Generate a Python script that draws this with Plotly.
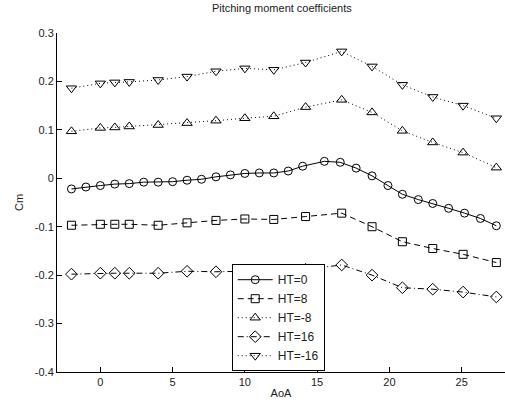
import plotly.graph_objects as go

# AoA values
aoa_ht0 = [-2, -1, 0, 1, 2, 3, 4, 5, 6, 7, 8, 9, 10, 11, 12, 13, 14,
           15.5, 16.6, 17.7, 18.8, 19.9, 20.9, 22.0, 23.0, 24.1, 25.2, 26.3, 27.4]
cm_ht0 = [-0.022, -0.018, -0.015, -0.012, -0.011, -0.008, -0.008, -0.007, -0.004, -0.002,
          0.003, 0.007, 0.010, 0.011, 0.011, 0.015, 0.025,
          0.035, 0.033, 0.021, 0.005, -0.015, -0.033, -0.044, -0.052, -0.062, -0.072, -0.083, -0.098]

aoa = [-2, 0, 1, 2, 4, 6, 8, 10, 12, 14.2, 16.7, 18.8, 20.9, 23.0, 25.1, 27.4]
cm_ht8 = [-0.097, -0.095, -0.095, -0.095, -0.097, -0.092, -0.087, -0.084, -0.085, -0.079,
          -0.072, -0.100, -0.131, -0.145, -0.157, -0.174]
cm_htm8 = [0.097, 0.104, 0.105, 0.107, 0.110, 0.114, 0.119, 0.124, 0.128, 0.147,
           0.162, 0.136, 0.098, 0.074, 0.053, 0.022]
cm_ht16 = [-0.198, -0.196, -0.196, -0.196, -0.196, -0.192, -0.193, -0.192, -0.190, -0.188,
           -0.179, -0.200, -0.226, -0.229, -0.235, -0.245]
cm_htm16 = [0.186, 0.196, 0.198, 0.199, 0.203, 0.210, 0.221, 0.227, 0.224, 0.239,
            0.262, 0.231, 0.193, 0.168, 0.150, 0.124]

x_ticks = [0, 5, 10, 15, 20, 25]
y_ticks = [0.3, 0.2, 0.1, 0, -0.1, -0.2, -0.3, -0.4]
y_tick_text = ["0.3", "0.2", "0.1", "0", "-0.1", "-0.2", "-0.3", "-0.4"]

fig = go.Figure()

def add(x, y, name, symbol, dash, size):
    fig.add_trace(go.Scatter(
        x=x, y=y, name=name, mode="lines+markers",
        line=dict(color="black", width=1, dash=dash),
        marker=dict(symbol=symbol, size=size, color="black",
                    line=dict(color="black", width=1)),
    ))

add(aoa_ht0, cm_ht0, "HT=0", "circle-open", "solid", 8)
add(aoa, cm_ht8, "HT=8", "square-open", "6px,4px", 8)
add(aoa, cm_htm8, "HT=-8", "triangle-up-open", "1px,3px", 9)
add(aoa, cm_ht16, "HT=16", "diamond-open", "6px,3px,1px,3px", 9)
add(aoa, cm_htm16, "HT=-16", "triangle-down-open", "1px,3px", 9)

font = dict(family="Liberation Sans, Arial, sans-serif", size=11, color="#222")
tfont = dict(family="Liberation Sans, Arial, sans-serif", size=11, color="#222")

fig.update_layout(
    width=505, height=405,
    margin=dict(l=57, r=0, t=33, b=33),
    paper_bgcolor="white", plot_bgcolor="white",
    font=font,
    title=dict(text="Pitching moment coefficients", x=0.558, xanchor="center",
               y=0.99, yanchor="top", font=tfont),
    showlegend=True,
    legend=dict(x=0.39, y=0.318, xanchor="left", yanchor="top",
                bgcolor="white", bordercolor="black", borderwidth=1,
                font=dict(family="Liberation Sans, Arial, sans-serif", size=12, color="#222"),
                tracegroupgap=0, itemwidth=35),
    xaxis=dict(range=[-3, 28], tickvals=x_ticks, ticks="inside", ticklen=5,
               tickcolor="black",
               showline=True, linecolor="black", linewidth=1, mirror=False,
               showgrid=False, zeroline=False,
               title=dict(text="AoA", standoff=2, font=tfont), tickfont=font),
    yaxis=dict(range=[-0.4, 0.3], tickvals=y_ticks, ticktext=y_tick_text,
               ticks="inside", ticklen=5, tickcolor="black",
               showline=True, linecolor="black", linewidth=1, mirror=False,
               showgrid=False, zeroline=False,
               title=dict(text="Cm", standoff=8, font=tfont), tickfont=font),
)

fig.write_html("out.html")
